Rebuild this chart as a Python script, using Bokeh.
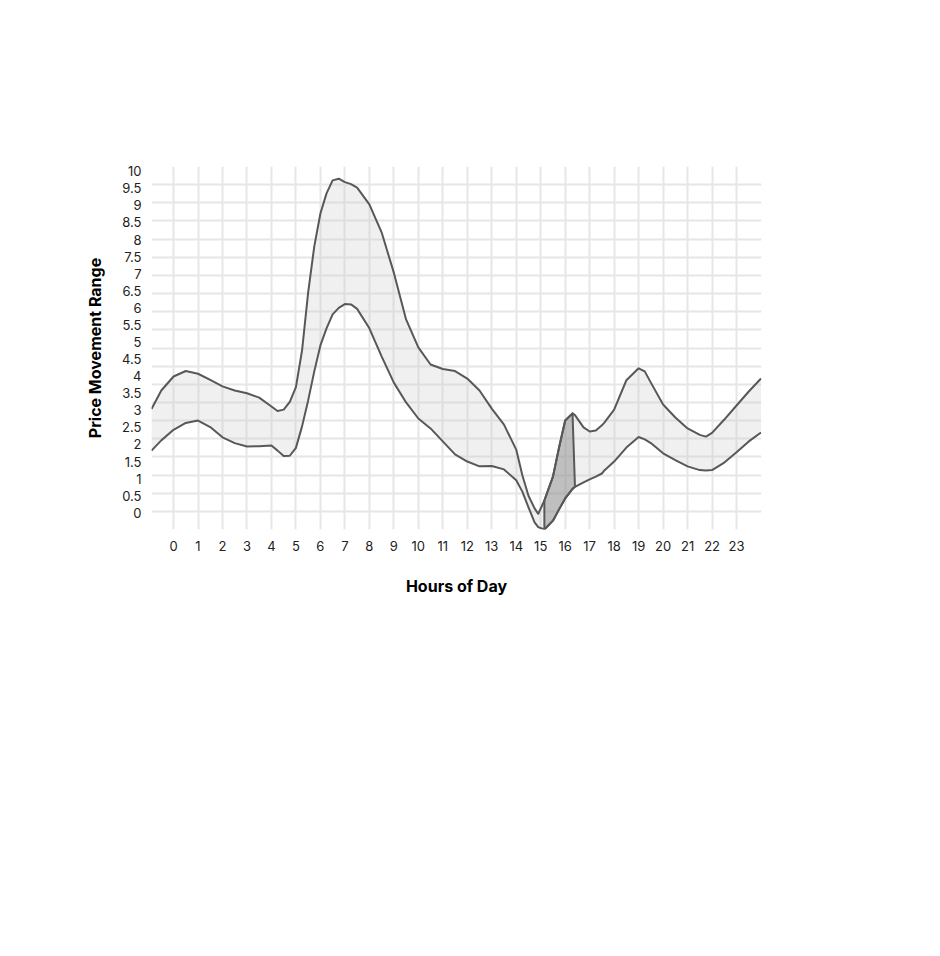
from bokeh.plotting import figure
from bokeh.models import Range1d, FixedTicker
from bokeh.embed import file_html
from bokeh.resources import INLINE

# Données (heures, borne haute, borne basse)
hours = [-0.9, -0.5, 0, 0.5, 1, 1.5, 2, 2.5, 3, 3.5, 4, 4.25, 4.5, 4.75, 5, 5.25,
         5.5, 5.75, 6, 6.25, 6.5, 6.75, 7, 7.25, 7.5, 8, 8.5, 9, 9.5, 10, 10.5,
         11, 11.5, 12, 12.5, 13, 13.5, 14, 14.25, 14.5, 14.75, 14.9, 15.15, 15.5,
         15.75, 16, 16.3, 16.4, 16.75, 17, 17.25, 17.5, 17.6, 18, 18.5, 19, 19.25,
         19.5, 20, 20.5, 21, 21.5, 21.75, 22, 22.5, 23, 23.5, 24]

upper = [3.04, 3.58, 3.99, 4.15, 4.07, 3.89, 3.70, 3.58, 3.50, 3.37, 3.11, 2.98, 3.02,
         3.25, 3.68, 4.75, 6.45, 7.80, 8.76, 9.35, 9.73, 9.78, 9.68, 9.62, 9.52, 9.03,
         8.21, 7.03, 5.66, 4.84, 4.34, 4.21, 4.15, 3.93, 3.58, 3.05, 2.58, 1.85, 1.10,
         0.50, 0.13, -0.03, 0.36, 1.06, 1.91, 2.70, 2.91, 2.86, 2.50, 2.38, 2.41, 2.56,
         2.64, 3.02, 3.88, 4.23, 4.14, 3.81, 3.17, 2.79, 2.47, 2.28, 2.23, 2.34, 2.73,
         3.14, 3.55, 3.93]

lower = [1.82, 2.12, 2.43, 2.63, 2.70, 2.51, 2.21, 2.04, 1.94, 1.95, 1.97, 1.82, 1.66,
         1.67, 1.90, 2.53, 3.29, 4.14, 4.90, 5.40, 5.81, 6.00, 6.11, 6.10, 5.97, 5.40,
         4.58, 3.81, 3.23, 2.76, 2.47, 2.09, 1.71, 1.50, 1.36, 1.37, 1.27, 0.95, 0.62,
         0.16, -0.28, -0.42, -0.49, -0.23, 0.10, 0.42, 0.70, 0.76, 0.89, 0.98, 1.06, 1.15,
         1.24, 1.50, 1.91, 2.22, 2.15, 2.04, 1.74, 1.54, 1.36, 1.25, 1.24, 1.25, 1.47,
         1.77, 2.09, 2.35]

# zone mise en évidence (entre 15h et 16h)
highlight_start = 15.15
highlight_top_end = 16.3
highlight_bottom_end = 16.4

x_ticks = list(range(24))
x_labels = [str(h) for h in x_ticks]
y_ticks = [i * 0.5 for i in range(21)]
y_labels = ["0", "0.5", "1", "1.5", "2", "2.5", "3", "3.5", "4", "4.5", "5", "5.5",
            "6", "6.5", "7", "7.5", "8", "8.5", "9", "9.5", "10"]

LINE = "#585858"
FONT = "Inter"

y0, y1 = -0.489, 10.137

p = figure(frame_width=610, frame_height=363, min_border_left=151, min_border_top=166,
           min_border_bottom=80, min_border_right=30,
           x_range=Range1d(-0.9, 24.02), y_range=Range1d(y0, y1),
           output_backend="svg", toolbar_location=None)
p.outline_line_color = None
p.background_fill_color = "white"
p.border_fill_color = "white"

# grille
p.xgrid.ticker = FixedTicker(ticks=x_ticks)
p.ygrid.ticker = FixedTicker(ticks=[y0 + k * (y1 - y0) / 20 for k in range(21)])
for g in (p.xgrid, p.ygrid):
    g.grid_line_color = "#e6e6e6"
    g.grid_line_width = 2

# bande claire
p.varea(x=hours, y1=lower, y2=upper, fill_color="#cccccc", fill_alpha=0.3)

# zone foncée
top_x = [h for h in hours if highlight_start <= h <= highlight_top_end]
top_y = [u for h, u in zip(hours, upper) if highlight_start <= h <= highlight_top_end]
bot_x = [h for h in hours if highlight_start <= h <= highlight_bottom_end]
bot_y = [l for h, l in zip(hours, lower) if highlight_start <= h <= highlight_bottom_end]
p.patch(top_x + bot_x[::-1], top_y + bot_y[::-1], fill_color="#808080", fill_alpha=0.43,
        line_color=LINE, line_width=2, line_join="round")

p.line(hours, upper, line_color=LINE, line_width=2, line_join="round")
p.line(hours, lower, line_color=LINE, line_width=2, line_join="round")

# axes
p.xaxis.ticker = FixedTicker(ticks=x_ticks)
p.xaxis.major_label_overrides = {t: l for t, l in zip(x_ticks, x_labels)}
p.yaxis.ticker = FixedTicker(ticks=y_ticks)
p.yaxis.major_label_overrides = {t: l for t, l in zip(y_ticks, y_labels)}

p.xaxis.axis_label = "Hours of Day"
p.yaxis.axis_label = "Price Movement Range"
for ax in (p.xaxis, p.yaxis):
    ax.axis_line_color = None
    ax.major_tick_line_color = None
    ax.minor_tick_line_color = None
    ax.major_label_text_font = FONT
    ax.major_label_text_font_size = "13px"
    ax.major_label_text_color = "#222222"
    ax.axis_label_text_font = FONT
    ax.axis_label_text_font_size = "16px"
    ax.axis_label_text_font_style = "bold"
    ax.axis_label_text_color = "#000000"
p.xaxis.major_label_standoff = 5
p.yaxis.major_label_standoff = 4
p.xaxis.axis_label_standoff = 22
p.yaxis.axis_label_standoff = 14

open("out.html", "w").write(file_html(p, INLINE))
